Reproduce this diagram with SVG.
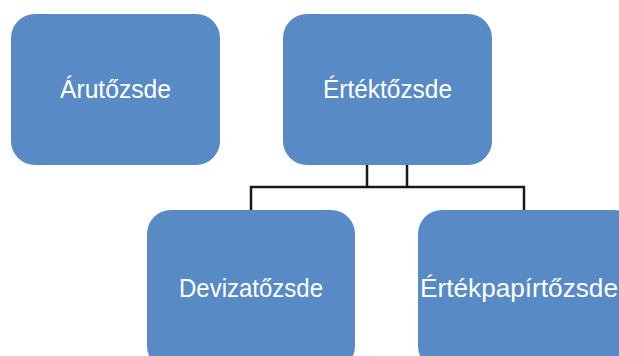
<svg xmlns="http://www.w3.org/2000/svg" width="619" height="356" viewBox="0 0 619 356">
<style>
.box{fill:#588BC5;}
.lbl{font-family:"Liberation Sans",Arial,sans-serif;font-size:26px;fill:#ffffff;text-anchor:middle;}
.conn{stroke:#1a1a1a;stroke-width:2.5;fill:none;}
</style>
<rect width="619" height="356" fill="#ffffff"/>
<g id="connectors">
<path class="conn" d="M367,165 V187 M407,165 V187 M250,187 H525 M251,186 V211 M524,186 V211"/>
</g>
<g id="arutozsde">
<rect class="box" x="11" y="14" width="209" height="151" rx="24"/>
<text class="lbl" x="115.5" y="98" textLength="111" lengthAdjust="spacingAndGlyphs">Árutőzsde</text>
</g>
<g id="ertektozsde">
<rect class="box" x="283" y="14" width="209" height="151" rx="24"/>
<text class="lbl" x="387.5" y="98" textLength="129" lengthAdjust="spacingAndGlyphs">Értéktőzsde</text>
</g>
<g id="devizatozsde">
<rect class="box" x="147" y="210" width="208" height="160" rx="24"/>
<text class="lbl" x="251" y="297" textLength="144" lengthAdjust="spacingAndGlyphs">Devizatőzsde</text>
</g>
<g id="ertekpapirtozsde">
<rect class="box" x="418" y="210" width="220" height="160" rx="24"/>
<text class="lbl" x="519" y="297" textLength="198" lengthAdjust="spacingAndGlyphs">Értékpapírtőzsde</text>
</g>
</svg>
